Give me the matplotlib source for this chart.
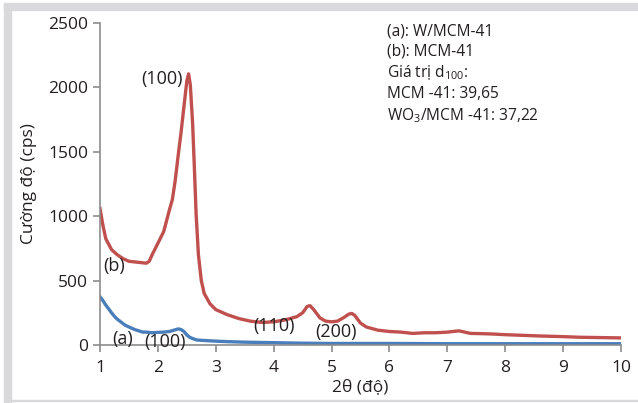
import matplotlib
matplotlib.use("Agg")
import matplotlib.pyplot as plt
from matplotlib.patches import Rectangle

plt.rcParams['font.family'] = ['Open Sans', 'DejaVu Sans']
plt.rcParams['mathtext.fontset'] = 'custom'
plt.rcParams['mathtext.rm'] = 'Open Sans'
plt.rcParams['mathtext.it'] = 'Open Sans'
plt.rcParams['mathtext.default'] = 'rm'

# MCM-41 (b)
b_x = [1.0, 1.05, 1.1, 1.2, 1.3, 1.4, 1.5, 1.6, 1.7, 1.8, 1.85, 1.9, 2.0, 2.1, 2.2, 2.25, 2.3, 2.35, 2.4, 2.45, 2.5, 2.53, 2.56, 2.6, 2.63, 2.66, 2.7, 2.75, 2.8, 2.9, 3.0, 3.2, 3.4, 3.6, 3.8, 4.0, 4.2, 4.4, 4.5, 4.58, 4.63, 4.7, 4.8, 4.9, 5.0, 5.1, 5.2, 5.3, 5.35, 5.4, 5.5, 5.6, 5.8, 6.0, 6.2, 6.4, 6.6, 6.8, 7.0, 7.1, 7.2, 7.3, 7.4, 7.6, 7.8, 8.0, 8.3, 8.6, 9.0, 9.3, 9.6, 10.0]
b_y = [1060, 930, 825, 740, 700, 670, 650, 645, 640, 635, 650, 700, 790, 880, 1050, 1130, 1280, 1470, 1650, 1850, 2050, 2105, 2020, 1720, 1380, 1020, 700, 500, 400, 320, 275, 235, 205, 185, 175, 180, 195, 220, 250, 300, 305, 270, 210, 185, 180, 185, 210, 240, 245, 230, 170, 140, 115, 105, 100, 90, 95, 95, 100, 105, 110, 100, 90, 88, 85, 80, 75, 70, 65, 60, 58, 55]

# W/MCM-41 (a)
a_x = [1.0, 1.05, 1.1, 1.2, 1.26, 1.3, 1.43, 1.5, 1.6, 1.74, 1.8, 1.9, 2.0, 2.1, 2.2, 2.3, 2.35, 2.4, 2.45, 2.5, 2.55, 2.6, 2.67, 2.8, 3.0, 3.2, 3.5, 4.0, 4.5, 5.0, 6.0, 7.0, 8.0, 9.0, 10.0]
a_y = [375, 345, 310, 250, 217, 200, 155, 140, 120, 100, 100, 95, 98, 100, 105, 118, 125, 120, 105, 78, 60, 50, 39, 35, 30, 26, 22, 18, 14, 12, 12, 10, 10, 10, 10]

x_ticks = [1, 2, 3, 4, 5, 6, 7, 8, 9, 10]
y_ticks = [0, 500, 1000, 1500, 2000, 2500]

fig = plt.figure(figsize=(6.38, 4.03), dpi=100)
# gray frame bands
fig.patches.append(Rectangle((4/638, 0.992 - 7/403), 1, 7/403, transform=fig.transFigure, color='#d9d9db', zorder=0))
fig.patches.append(Rectangle((4/638, 0), 7/638, 1 - 4/403, transform=fig.transFigure, color='#d9d9db', zorder=0))
fig.patches.append(Rectangle((4/638, 2/403), 1, 1.2/403, transform=fig.transFigure, color='#d9d9db', zorder=0))

ax = fig.add_axes([100/638, 1 - 345/403, 521/638, 322/403])
ax.plot(b_x, b_y, color='#c0504d', lw=2.4)
ax.plot(a_x, a_y, color='#4a7ebb', lw=2.4)

ax.set_xlim(1, 10)
ax.set_ylim(0, 2500)
ax.set_xticks(x_ticks)
ax.set_yticks(y_ticks)
for s in ['top', 'right']:
    ax.spines[s].set_visible(False)
for s in ['left', 'bottom']:
    ax.spines[s].set_color('#8c8c8c')
    ax.spines[s].set_linewidth(1.2)
ax.tick_params(axis='both', colors='#8c8c8c', labelcolor='#231f20', labelsize=12.5, length=5, width=1.2)
ax.tick_params(axis='x', pad=6)
ax.set_xlabel('2θ (độ)', fontsize=12.5, color='#231f20', labelpad=2)
ax.set_ylabel('Cường độ (cps)', fontsize=12.5, color='#231f20', labelpad=8)

tc = '#231f20'
fs = 13
ax.text(2.43, 2065, '(100)', fontsize=fs, color=tc, ha='right', va='center')
ax.text(1.05, 615, '(b)', fontsize=fs, color=tc, ha='left', va='center')
ax.text(1.22, 50, '(a)', fontsize=fs, color=tc, ha='left', va='center')
ax.text(1.76, 20, '(100)', fontsize=fs, color=tc, ha='left', va='center')
ax.text(3.65, 145, '(110)', fontsize=fs, color=tc, ha='left', va='center')
ax.text(4.71, 100, '(200)', fontsize=fs, color=tc, ha='left', va='center')

info = ('(a): W/MCM-41\n(b): MCM-41\nGiá trị d$_{100}$:\nMCM -41: 39,65\nWO$_3$/MCM -41: 37,22')
fig.text(387/638, 1 - 24/403, info, fontsize=11.2, color=tc, ha='left', va='top', linespacing=1.3)

fig.savefig('out.png', dpi=100, facecolor='white')
